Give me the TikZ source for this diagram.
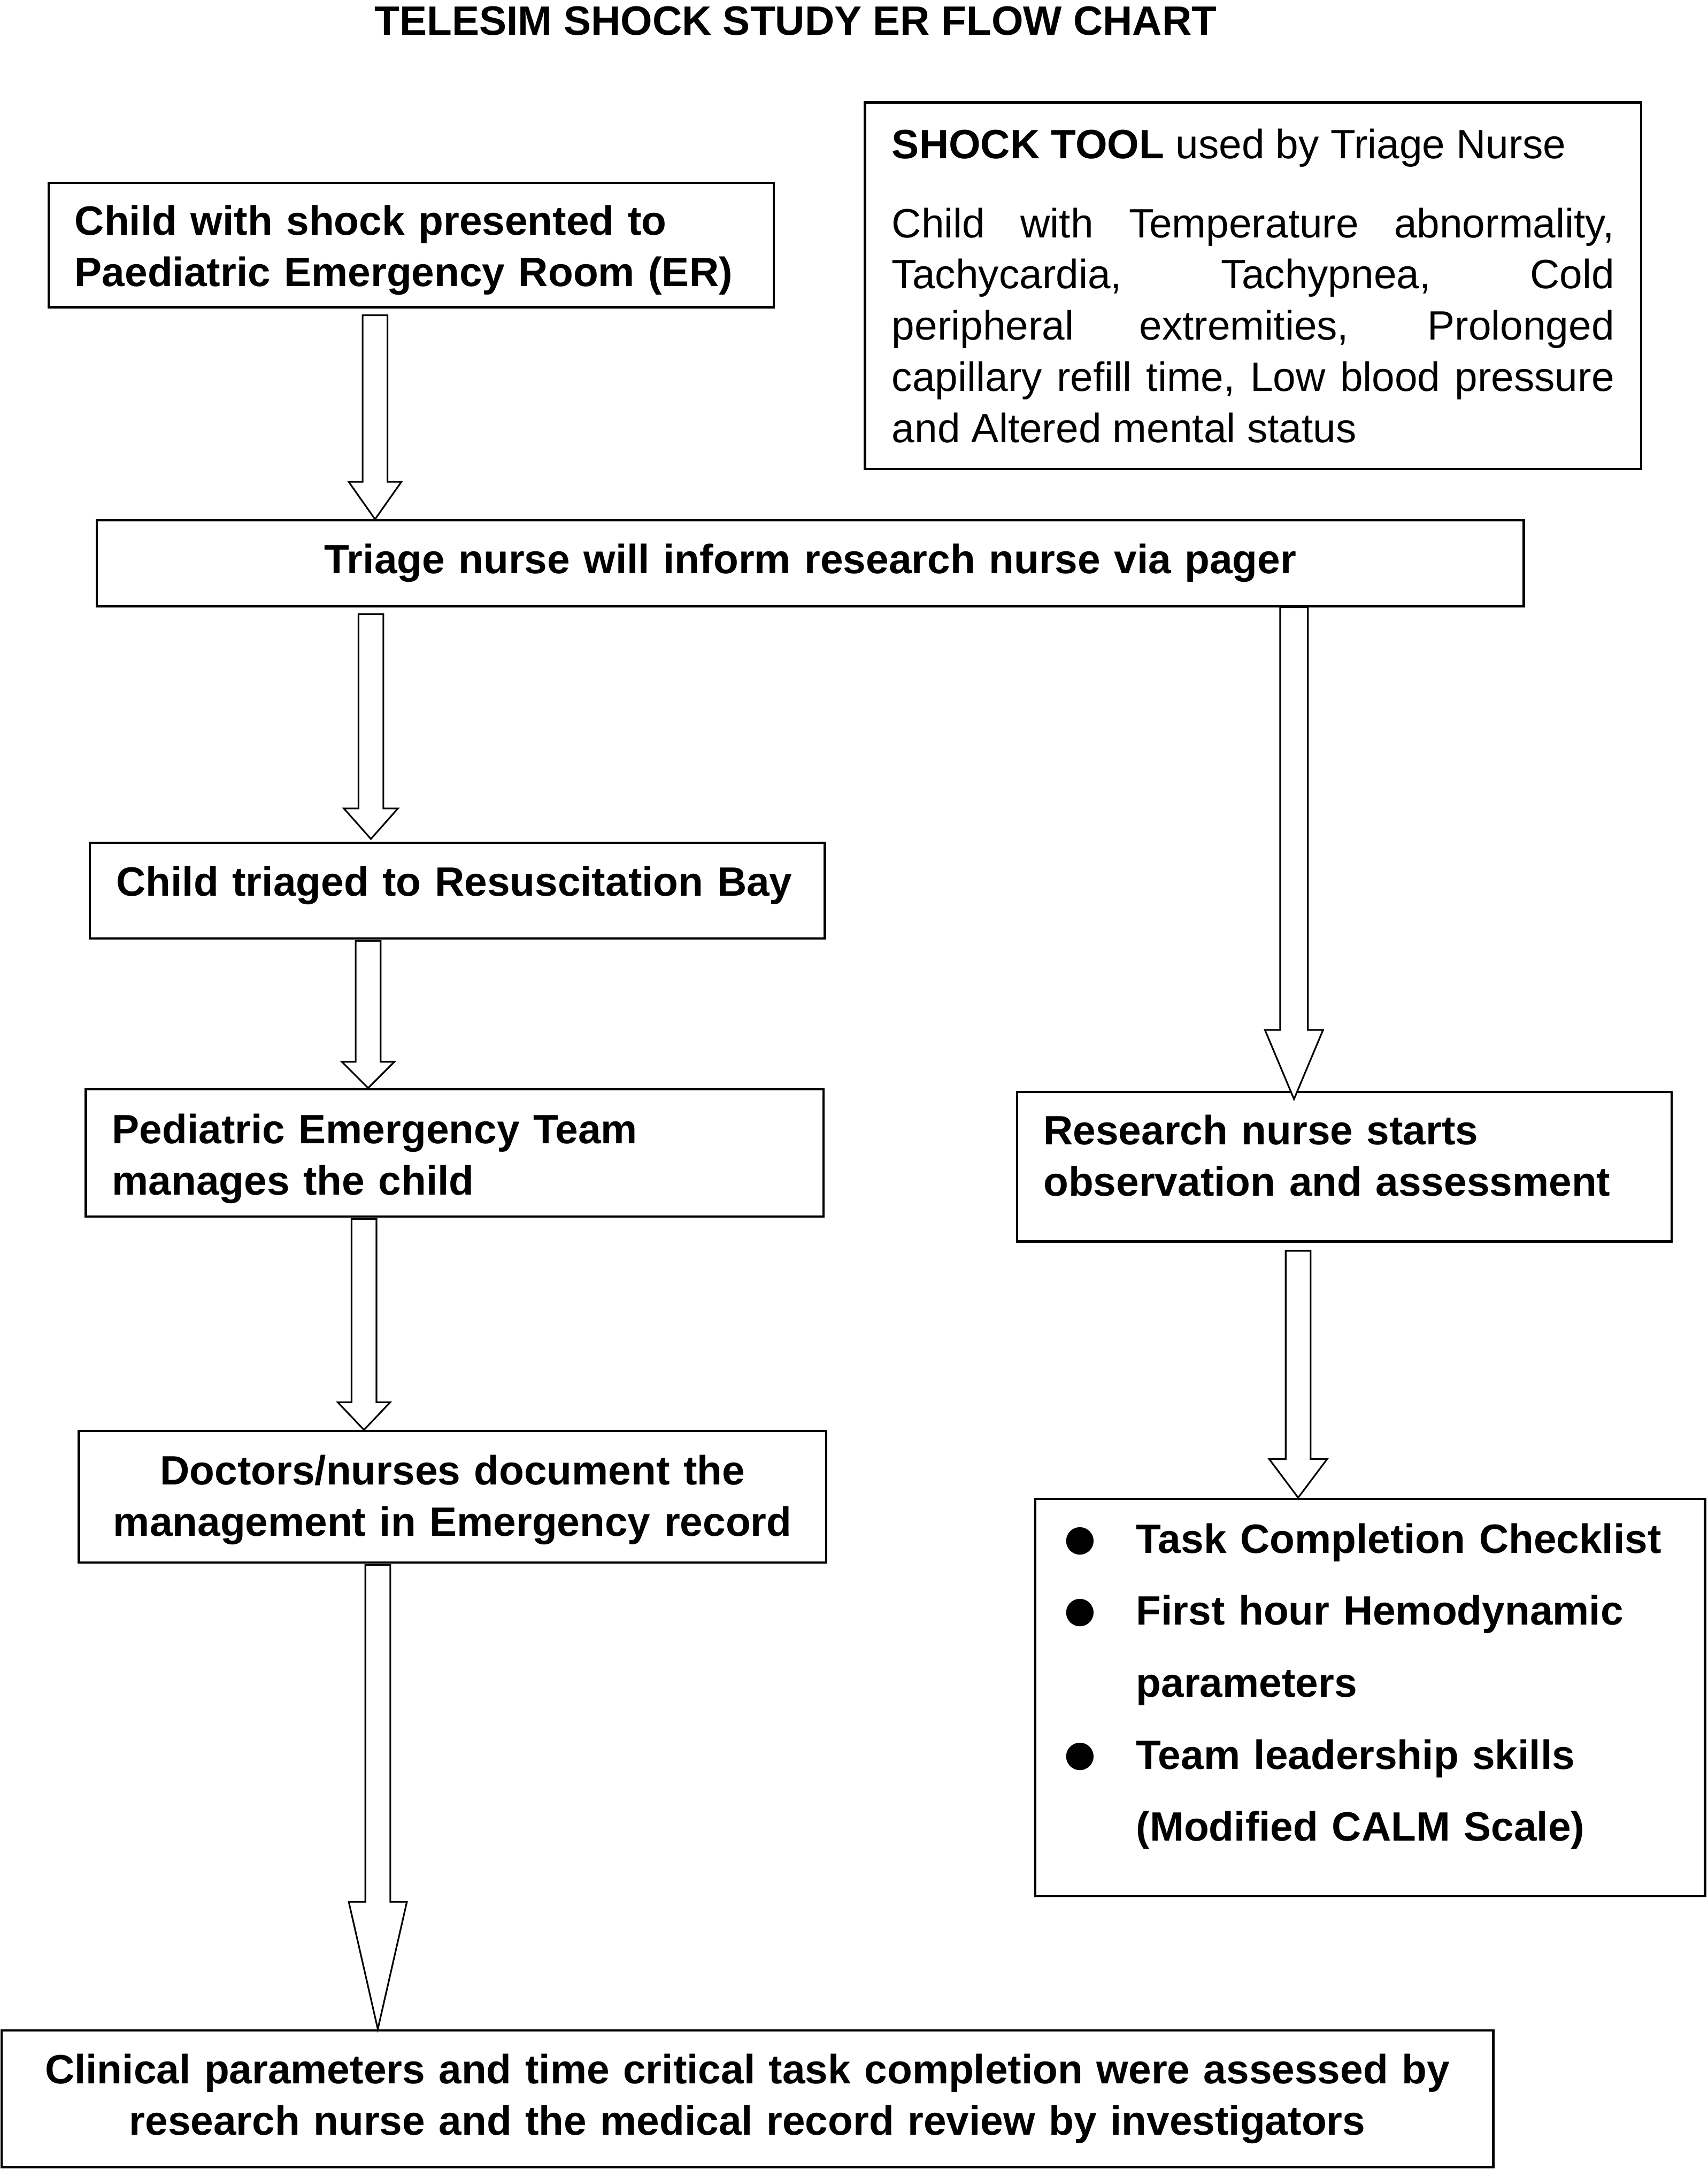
\documentclass[tikz,border=0pt]{standalone}
\usepackage{fontspec}
\setmainfont{Liberation Sans}
\newfontfamily\bulletfont{DejaVu Sans}
\usepackage{tikz}
\usetikzlibrary{positioning, calc}

\newcommand{\chartsize}{\fontsize{29.6pt}{37pt}\selectfont}
\newcommand{\dotitem}{\makebox[54pt][l]{\hspace{2pt}\raisebox{2pt}{\bulletfont\fontsize{26pt}{26pt}\selectfont ●}}}
\newcommand{\tallstrut}[1]{\rule{0pt}{#1}}
\newcommand{\deepstrut}[1]{\rule[-#1]{0pt}{0pt}}
\newcommand{\hollowarrow}[5]{%
  \draw[arrowline] let \p1 = #1, \p2 = #2 in
    (\x1-#4, \y1) -- (\x1-#4, \y2+#3) -- (\x1-#5, \y2+#3) -- (\x1, \y2)
    -- (\x1+#5, \y2+#3) -- (\x1+#4, \y2+#3) -- (\x1+#4, \y1) -- cycle;
}

\begin{document}
\begin{tikzpicture}[x=1pt, y=1pt,
    stagebox/.style={draw, line width=1.6pt, inner xsep=19pt, inner ysep=0pt, font=\chartsize\bfseries},
    arrowline/.style={fill=white, line width=1.2pt, line join=miter}]
  \useasboundingbox (0, 0) rectangle (1234, -1568);

  \node[font=\chartsize\bfseries] (title) at (575, -15) {TELESIM SHOCK STUDY ER FLOW CHART};

  % left column
  \node[stagebox, text width=486pt, minimum height=90pt, align=left] (arrival) at (297, -177)
    {\tallstrut{29pt}Child with shock presented to\\Paediatric Emergency Room (ER)};
  \node[stagebox, text width=522pt, minimum height=265pt, inner xsep=19.5pt, font=\chartsize, align=justify] (shocktool) at (905.5, -206.5)
    {\textbf{SHOCK TOOL} used by Triage Nurse\par\vspace{20pt}
     \hyphenpenalty=10000 Child with Temperature abnormality,\linebreak Tachycardia, Tachypnea, Cold\linebreak peripheral extremities, Prolonged\linebreak capillary refill time, Low blood pressure\linebreak and Altered mental status};
  \node[stagebox, text width=993pt, minimum height=62pt, align=center] (pager) at (585.5, -407)
    {Triage nurse will inform research nurse via pager};
  \node[stagebox, text width=493pt, minimum height=69pt, align=left] (resus) at (330.5, -643.5)
    {\mbox{Child triaged to Resuscitation Bay\deepstrut{14pt}}};
  \node[stagebox, text width=495pt, minimum height=92pt, align=left] (team) at (328.5, -833)
    {\tallstrut{30pt}Pediatric Emergency Team\\manages the child};
  \node[stagebox, text width=502pt, minimum height=95pt, align=center] (record) at (327, -1081.5)
    {\tallstrut{26pt}Doctors/nurses document the\\management in Emergency record};

  % right column
  \node[stagebox, text width=435pt, minimum height=108pt, align=left] (observe) at (971.5, -843)
    {Research nurse starts\\observation and assessment\deepstrut{16pt}};
  \node[stagebox, text width=446pt, minimum height=287pt, align=left, font=\fontsize{29.6pt}{52pt}\selectfont\bfseries] (checklist) at (990, -1226.5)
    {\dotitem Task Completion Checklist\\ \dotitem First hour Hemodynamic\\ \hspace*{54pt}parameters\\ \dotitem Team leadership skills\\ \hspace*{54pt}(Modified CALM Scale)\deepstrut{22pt}};

  \node[stagebox, text width=1040pt, minimum height=99pt, align=center] (review) at (540, -1516.5)
    {Clinical parameters and time critical task completion were assessed by\\research nurse and the medical record review by investigators};

  % block arrows
  \hollowarrow{([xshift=-26pt, yshift=-5pt]arrival.south)}{(pager.north)}{27pt}{9pt}{19pt}
  \hollowarrow{([xshift=-317.5pt, yshift=-5pt]pager.south)}{([yshift=2pt]resus.north)}{22pt}{9pt}{19.5pt}
  \hollowarrow{([xshift=-64.5pt, yshift=-1pt]resus.south)}{(team.north)}{19pt}{9pt}{19pt}
  \hollowarrow{([xshift=-65.5pt, yshift=-1pt]team.south)}{(record.north)}{20pt}{9pt}{19pt}
  \hollowarrow{([xshift=-54pt, yshift=-1pt]record.south)}{(review.north)}{92pt}{9pt}{21pt}
  \hollowarrow{([xshift=349.5pt]pager.south)}{([yshift=-6pt]observe.north)}{50pt}{10pt}{21pt}
  \hollowarrow{([xshift=-33.5pt, yshift=-6pt]observe.south)}{(checklist.north)}{28pt}{9pt}{21pt}
\end{tikzpicture}
\end{document}
